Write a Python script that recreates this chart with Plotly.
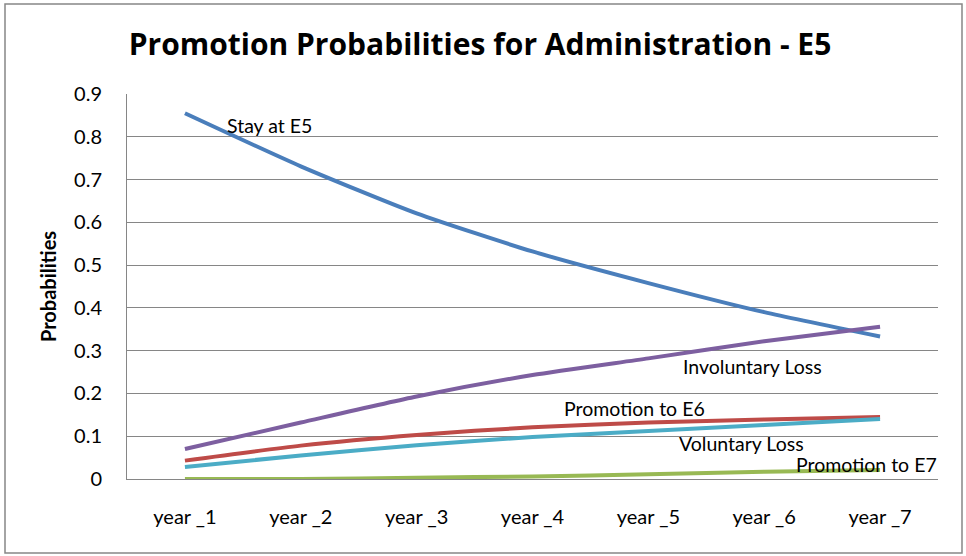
import plotly.graph_objects as go

categories = ["year _1", "year _2", "year _3", "year _4", "year _5", "year _6", "year _7"]
stay_e5 = [0.855, 0.731, 0.621, 0.532, 0.458, 0.390, 0.333]
involuntary_loss = [0.070, 0.132, 0.193, 0.243, 0.282, 0.322, 0.356]
promotion_e6 = [0.043, 0.078, 0.103, 0.121, 0.132, 0.139, 0.145]
voluntary_loss = [0.028, 0.055, 0.079, 0.098, 0.112, 0.126, 0.140]
promotion_e7 = [0.000, 0.000, 0.003, 0.006, 0.011, 0.017, 0.021]

series = [
    ("Stay at E5", stay_e5, "#4A7EBB"),
    ("Involuntary Loss", involuntary_loss, "#7D5FA0"),
    ("Promotion to E6", promotion_e6, "#BE4B48"),
    ("Voluntary Loss", voluntary_loss, "#4BACC6"),
    ("Promotion to E7", promotion_e7, "#98B954"),
]

FONT = "Lato, 'Open Sans', sans-serif"

fig = go.Figure()
for name, vals, col in series:
    fig.add_trace(go.Scatter(x=categories, y=vals, mode="lines", name=name,
                             line=dict(color=col, width=4, shape="spline", smoothing=0.6)))

# label positions: (category index, value)
labels = [
    ("Stay at E5", 0.733, 0.827),
    ("Involuntary Loss", 4.90, 0.264),
    ("Promotion to E6", 3.88, 0.164),
    ("Voluntary Loss", 4.80, 0.082),
    ("Promotion to E7", 5.88, 0.033),
]
for text, xi, yv in labels:
    fig.add_annotation(x=xi, y=yv, xref="x", yref="y", text=text, showarrow=False,
                       font=dict(family=FONT, size=19.5, color="#000000"))

L, R, T, B = 127, 28, 94, 77
W, H = 966, 556
pw, ph = W - L - R, H - T - B

def px(x):
    return (x - L) / pw

def py(y):
    return (H - B - y) / ph

fig.add_shape(type="rect", xref="paper", yref="paper",
              x0=px(5), x1=px(962), y0=py(553), y1=py(4),
              line=dict(color="#878787", width=1.5), fillcolor="rgba(0,0,0,0)", layer="below")

fig.update_layout(
    width=W, height=H,
    margin=dict(l=L, r=R, t=T, b=B),
    paper_bgcolor="white", plot_bgcolor="white",
    showlegend=False,
    title=dict(text="<b>Promotion Probabilities for Administration - E5</b>",
               x=480 / W, xref="container", xanchor="center",
               y=1 - 44 / H, yanchor="middle", yref="container",
               font=dict(family="'Open Sans', Lato, sans-serif", size=30, color="#000000")),
    font=dict(family=FONT, size=19.5, color="#000000"),
)
fig.update_xaxes(type="category", range=[-0.5, 6.5], showgrid=False,
                 showline=True, linecolor="#868686", linewidth=1,
                 ticks="", tickfont=dict(size=20), ticklabelstandoff=20)
fig.update_yaxes(range=[0, 0.9], dtick=0.1, tickformat=".1~f",
                 showgrid=True, gridcolor="#868686", gridwidth=1,
                 showline=True, linecolor="#868686", linewidth=1,
                 zeroline=False, ticks="", tickfont=dict(size=20),
                 ticklabelstandoff=20,
                 title=dict(text="<b>Probabilities</b>", font=dict(size=20), standoff=12))

fig.write_html("out.html")
